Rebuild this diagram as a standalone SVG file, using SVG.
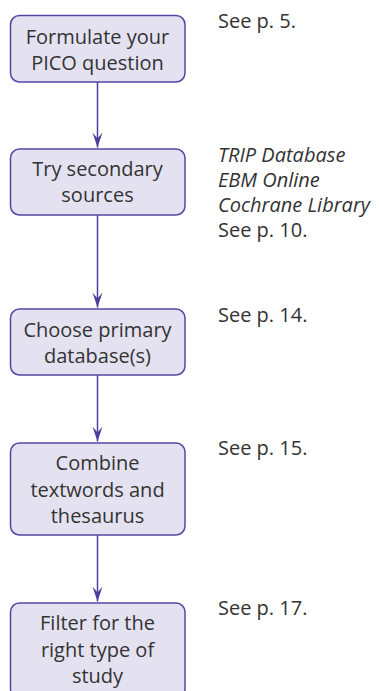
<svg xmlns="http://www.w3.org/2000/svg" width="379" height="691" viewBox="0 0 379 691">
<style>
.box{fill:#e4e2f1;stroke:#5745a6;stroke-width:1.5}
.t{font-family:"Open Sans","Noto Sans",sans-serif;font-size:20px;fill:#333333}
.c{text-anchor:middle}
.i{font-style:italic}
.con{stroke:#4e3c9f;stroke-width:1.5;fill:none}
</style>
<defs>
<marker id="ah" markerWidth="16" markerHeight="12" refX="15" refY="5" orient="auto" markerUnits="userSpaceOnUse" viewBox="0 0 16 12">
<path d="M0,0 L6,5 L0,10 L15,5 Z" fill="#4e3c9f"/>
</marker>
</defs>
<rect width="379" height="691" fill="#ffffff"/>
<g id="connectors">
<line class="con" x1="97.5" y1="82" x2="97.5" y2="147.5" marker-end="url(#ah)"/>
<line class="con" x1="97.5" y1="215" x2="97.5" y2="307.5" marker-end="url(#ah)"/>
<line class="con" x1="97.5" y1="375" x2="97.5" y2="441.5" marker-end="url(#ah)"/>
<line class="con" x1="97.5" y1="535" x2="97.5" y2="601.5" marker-end="url(#ah)"/>
</g>
<g id="n1">
<rect class="box" x="10.5" y="15.5" width="174.5" height="66.5" rx="9"/>
<text class="t c" x="97.5" y="44">Formulate your</text>
<text class="t c" x="97.5" y="70">PICO question</text>
</g>
<g id="n2">
<rect class="box" x="10.5" y="149" width="174.5" height="66" rx="9"/>
<text class="t c" x="97.5" y="176">Try secondary</text>
<text class="t c" x="97.5" y="202">sources</text>
</g>
<g id="n3">
<rect class="box" x="10.5" y="309" width="174.5" height="66" rx="9"/>
<text class="t c" x="97.5" y="337">Choose primary</text>
<text class="t c" x="97.5" y="363">database(s)</text>
</g>
<g id="n4">
<rect class="box" x="10.5" y="443" width="174.5" height="92" rx="9"/>
<text class="t c" x="97.5" y="470">Combine</text>
<text class="t c" x="97.5" y="497">textwords and</text>
<text class="t c" x="97.5" y="523">thesaurus</text>
</g>
<g id="n5">
<rect class="box" x="10.5" y="603" width="174.5" height="95" rx="9"/>
<text class="t c" x="97.5" y="630">Filter for the</text>
<text class="t c" x="97.5" y="657">right type of</text>
<text class="t c" x="97.5" y="683">study</text>
</g>
<g id="notes">
<text class="t" x="218" y="28">See p. 5.</text>
<text class="t i" x="218" y="162">TRIP Database</text>
<text class="t i" x="218" y="187">EBM Online</text>
<text class="t i" x="218" y="212">Cochrane Library</text>
<text class="t" x="218" y="237">See p. 10.</text>
<text class="t" x="218" y="322">See p. 14.</text>
<text class="t" x="218" y="455">See p. 15.</text>
<text class="t" x="218" y="615">See p. 17.</text>
</g>
</svg>
